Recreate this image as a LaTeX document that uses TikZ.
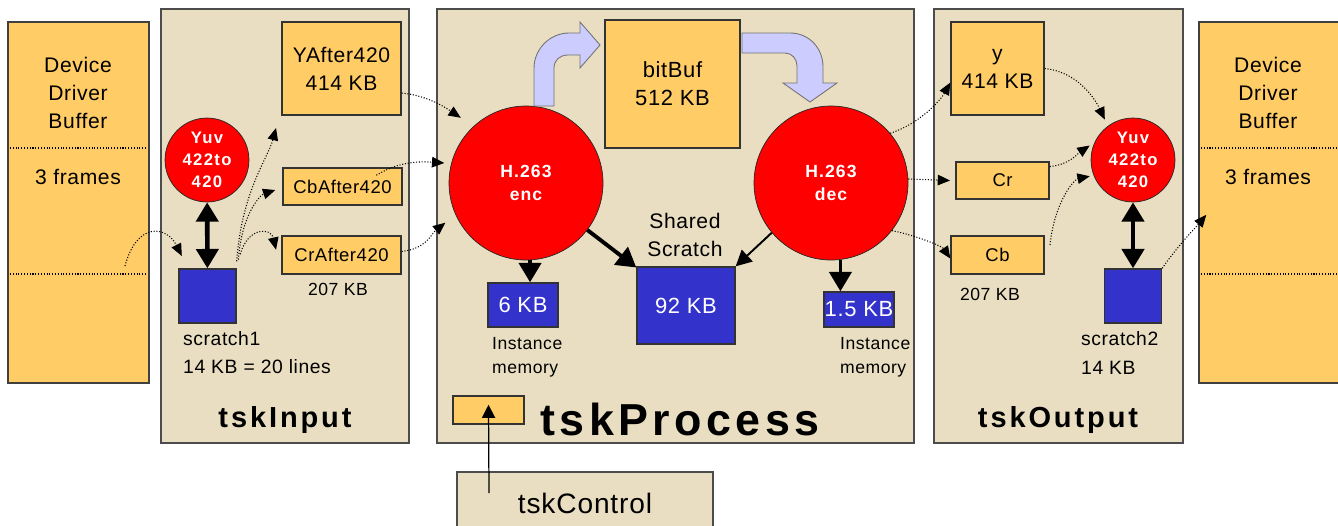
\documentclass[tikz,border=0pt]{standalone}
\usepackage{fontspec}
\setmainfont{Liberation Sans}[LetterSpace=3]
\usetikzlibrary{arrows.meta,calc,positioning}

\definecolor{bufcol}{HTML}{FFCC66}
\definecolor{panelcol}{HTML}{E9DEC1}
\definecolor{memcol}{HTML}{3333CC}
\definecolor{flowcol}{HTML}{CCCCFF}

\tikzset{
  sz/.style 2 args={minimum width=#1*0.02cm,minimum height=#2*0.02cm},
  buf/.style={draw=black!75,fill=bufcol,line width=0.7pt},
  panel/.style={draw=black!70,fill=panelcol,line width=0.8pt},
  datbox/.style={draw=black!80,fill=bufcol,line width=0.8pt,align=center,inner sep=1pt},
  scr/.style={draw=black!80,fill=memcol,line width=0.8pt,text=white,inner sep=0.5pt,
    font=\fontsize{12.5}{15}\selectfont},
  proc/.style={circle,draw=black!85,fill=red,text=white,align=center,inner sep=0pt},
  txt/.style={align=center,font=\fontsize{12}{16}\selectfont},
  small/.style={align=left,font=\fontsize{10}{13.5}\selectfont},
  tsk/.style={font=\bfseries\fontsize{16.5}{20}\selectfont\addfontfeature{LetterSpace=10}},
  sepline/.style={densely dotted,line width=0.6pt},
  dotarrow/.style={densely dotted,line width=0.6pt,-{Triangle[length=7pt,width=6pt]}},
  dblarrow/.style={line width=2.6pt,{Triangle[length=11pt,width=12.5pt]}-{Triangle[length=11pt,width=12.5pt]}},
  fatarrow/.style={line width=2.2pt,-{Triangle[length=11pt,width=12.5pt]}},
  flow/.style={fill=flowcol,draw=black!55,line width=0.5pt}
}

\begin{document}
\begin{tikzpicture}[x=0.02cm,y=-0.02cm]
\useasboundingbox (0,0) rectangle (1338,525);

% device driver buffers
\node[buf,sz={141}{361}] (lbuf) at (78.5,202.5) {};
\draw[sepline] (10,148) -- (147,148);
\draw[sepline] (10,274) -- (147,274);
\node[txt] (lbuftitle) at (78,93) {Device\\Driver\\Buffer};
\node[txt] (lbufframes) at (78,177) {3 frames};

\node[buf,sz={141}{361}] (rbuf) at (1269.5,202.5) {};
\draw[sepline] (1201,148) -- (1338,148);
\draw[sepline] (1201,274) -- (1338,274);
\node[txt] (rbuftitle) at (1268,93) {Device\\Driver\\Buffer};
\node[txt] (rbufframes) at (1268,177) {3 frames};

% task panels
\node[panel,sz={248}{434}] (pinput) at (285,226) {};
\node[panel,sz={477}{434}] (pprocess) at (675.5,226) {};
\node[panel,sz={249}{434}] (poutput) at (1058.5,226) {};
\node[panel,sz={256}{62},font=\fontsize{16}{19}\selectfont] (tskcontrol) at (585,503) {tskControl};

\node[tsk] (linput) at (285,420) {tskInput};
\node[tsk,font=\bfseries\fontsize{25.5}{30}\selectfont\addfontfeature{LetterSpace=10}] (lprocess) at (680,419) {tskProcess};
\node[tsk] (loutput) at (1058,420) {tskOutput};

% tskInput
\node[datbox,sz={119}{93},font=\fontsize{12}{16}\selectfont] (yafter) at (341.5,68.5) {YAfter420\\414 KB};
\node[datbox,sz={119}{37},font=\fontsize{10.5}{13}\selectfont] (cbafter) at (342.5,186.5) {CbAfter420};
\node[datbox,sz={119}{38},font=\fontsize{10.5}{13}\selectfont] (crafter) at (341.5,255) {CrAfter420};
\node[small] (crsize) at (338,289) {207 KB};
\node[proc,minimum size=1.68cm,font=\bfseries\fontsize{9.5}{12.5}\selectfont\addfontfeature{LetterSpace=8}] (yuvin) at (207,160) {Yuv\\422to\\420};
\node[scr,sz={57}{54}] (scratch1) at (207.5,296) {};
\node[small,anchor=west,font=\fontsize{11}{16}\selectfont] (scratch1lbl) at (177,353) {scratch1\\14 KB = 20 lines};

% tskProcess
\node[proc,minimum size=3.08cm,font=\bfseries\fontsize{10}{13}\selectfont\addfontfeature{LetterSpace=6}] (enc) at (526,183) {H.263\\enc};
\node[proc,minimum size=3.08cm,font=\bfseries\fontsize{10}{13}\selectfont\addfontfeature{LetterSpace=6}] (dec) at (831,183) {H.263\\dec};
\node[datbox,sz={135}{128},font=\fontsize{12.5}{16}\selectfont] (bitbuf) at (672.5,84) {bitBuf\\512 KB};
\node[scr,sz={70}{44}] (encmem) at (523,305) {6 KB};
\node[scr,sz={98}{77}] (shared) at (686,305.5) {92 KB};
\node[scr,sz={70}{35}] (decmem) at (859,309.5) {1.5 KB};
\node[txt] (sharedlbl) at (685,235) {Shared\\Scratch};
\node[small,anchor=west] (encmemlbl) at (486,357) {Instance\\memory};
\node[small,anchor=west] (decmemlbl) at (834,357) {Instance\\memory};
\node[datbox,sz={71}{28}] (flag) at (488.5,410) {};

% bitstream flow
\filldraw[flow] (534,106) -- (534,68) .. controls (534,49) and (550,33) .. (569,33)
  -- (580,33) -- (580,22) -- (600,45) -- (580,68) -- (580,55) -- (568,55)
  .. controls (560,55) and (554,60) .. (554,68) -- (554,106) -- cycle;
\filldraw[flow] (742,33) -- (790,33) .. controls (809,33) and (823,48) .. (823,67)
  -- (823,83) -- (837,83) -- (810,102) -- (783,83) -- (797,83) -- (797,66)
  .. controls (797,59) and (792,53) .. (785,53) -- (742,53) -- cycle;

% tskOutput
\node[datbox,sz={93}{93},font=\fontsize{12}{16}\selectfont] (ybox) at (997.5,68.5) {y\\414 KB};
\node[datbox,sz={93}{37},font=\fontsize{10.5}{13}\selectfont] (crbox) at (1002.5,180.5) {Cr};
\node[datbox,sz={93}{38},font=\fontsize{10.5}{13}\selectfont] (cbbox) at (997.5,255) {Cb};
\node[small] (cbsize) at (990,294) {207 KB};
\node[proc,minimum size=1.68cm,font=\bfseries\fontsize{9.5}{12.5}\selectfont\addfontfeature{LetterSpace=8}] (yuvout) at (1133,160) {Yuv\\422to\\420};
\node[scr,sz={57}{54}] (scratch2) at (1133,296) {};
\node[small,anchor=west,font=\fontsize{11}{16}\selectfont] (scratch2lbl) at (1075,353) {scratch2\\14 KB};

% solid arrows
\draw[dblarrow] (yuvin) -- (scratch1);
\draw[dblarrow] (yuvout) -- (scratch2);
\draw[fatarrow] (enc.-87) -- (encmem.north -| enc.-87);
\draw[fatarrow] (enc) -- (shared);
\draw[line width=1.1pt,-{Triangle[length=9pt,width=9pt]}] (dec.220) -- (shared.north east);
\draw[fatarrow] (dec.-83) -- (decmem.north -| dec.-83);
\coordinate (ctlfoot) at (489,493);
\draw[line width=0.7pt,-{Triangle[length=7.5pt,width=7.5pt]}] (ctlfoot) -- ([yshift=3pt]flag.center);

% data movement
\coordinate (lbufout) at (125,266);
\draw[dotarrow] (lbufout) .. controls +(12,-45) and +(-15,-30) .. ([shift={(2pt,7pt)}]scratch1.north west);
\draw[dotarrow] ([yshift=4pt]scratch1.north east) .. controls +(5,-70) and +(-8,30) .. ([shift={(-3pt,-7pt)}]yafter.south west);
\draw[dotarrow] ([shift={(1pt,5pt)}]scratch1.north east) .. controls +(3,-45) and +(-15,5) .. ([shift={(-4pt,-2pt)}]cbafter.west);
\draw[dotarrow] ([shift={(2pt,8pt)}]scratch1.north east) .. controls +(8,-28) and +(-5,-22) .. ([shift={(-3pt,3pt)}]crafter.west);
\draw[dotarrow] ([yshift=-14pt]yafter.east) .. controls +(25,2) and +(-15,-10) .. ([shift={(-6pt,6pt)}]enc.135);
\draw[dotarrow] ([shift={(-15pt,-4.5pt)}]cbafter.north east) .. controls +(20,-12) and +(-30,-2) .. ([xshift=-4pt]enc.165);
\draw[dotarrow] ([yshift=2pt]crafter.east) .. controls +(25,-3) and +(-15,12) .. ([shift={(-6pt,-4pt)}]enc.205);
\draw[dotarrow] (dec.40) .. controls +(30,-10) and +(-10,18) .. ([yshift=-8pt]ybox.west);
\draw[dotarrow] (dec.3) -- ([xshift=-3pt]crbox.west);
\draw[dotarrow] (dec.-38) .. controls +(25,5) and +(-8,-12) .. ([yshift=-2pt]cbbox.west);
\draw[dotarrow] (ybox.east) .. controls +(30,3) and +(-12,-25) .. ([shift={(1pt,6pt)}]yuvout.135);
\draw[dotarrow] ([yshift=-3pt]crbox.north east) .. controls +(20,-2) and +(-12,8) .. ([xshift=-2pt]yuvout.160);
\draw[dotarrow] ([shift={(3pt,-5.5pt)}]cbbox.north east) .. controls +(5,-45) and +(-15,3) .. ([shift={(-2pt,-1pt)}]yuvout.200);
\draw[dotarrow] (scratch2.north east) .. controls +(15,-22) and +(-10,12) .. ([shift={(4.5pt,-7pt)}]rbuf.west);
\end{tikzpicture}
\end{document}
